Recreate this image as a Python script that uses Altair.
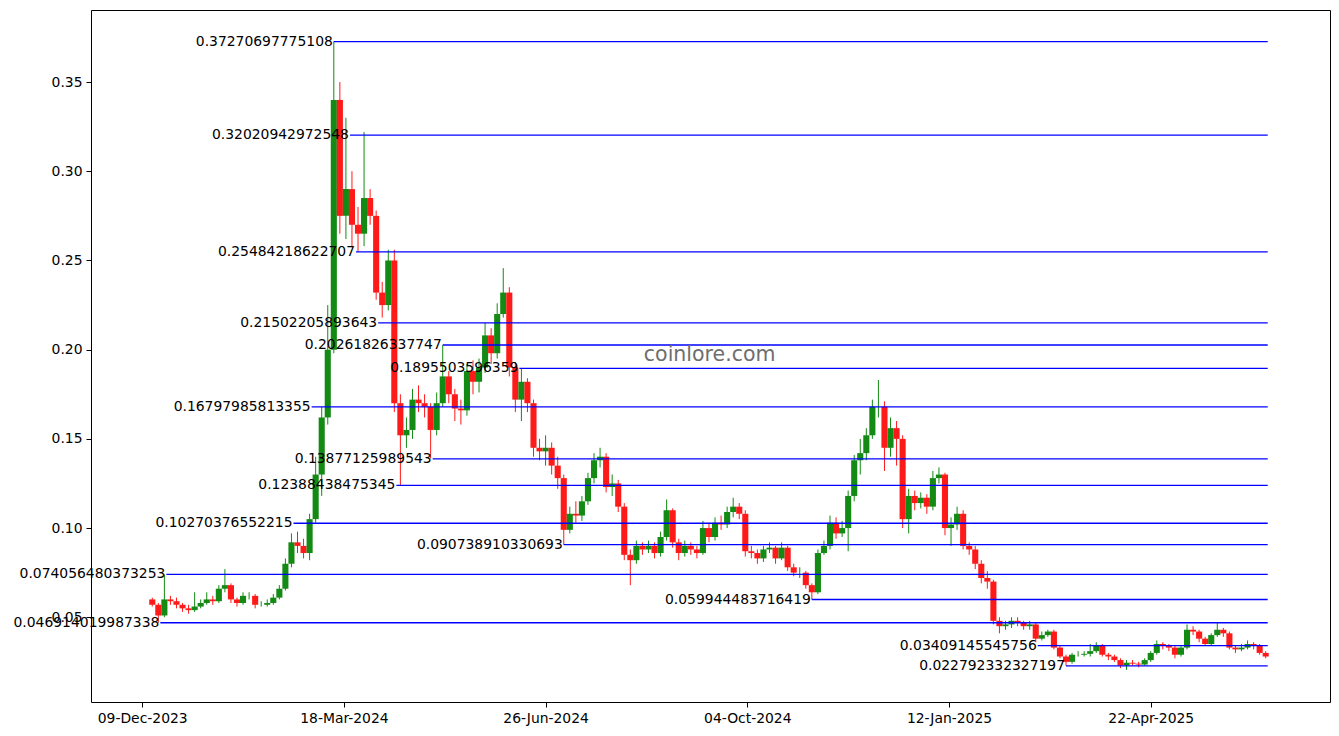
import altair as alt
import pandas as pd

# ---------------- data ----------------
first_open = 0.060
first_date = "2023-12-14"
step_days = 3

closes = [
    0.057, 0.051, 0.060, 0.059, 0.057, 0.055, 0.054, 0.056, 0.058, 0.060,
    0.059, 0.066, 0.068, 0.060, 0.058, 0.062, 0.062, 0.057, 0.057, 0.058,
    0.061, 0.066, 0.080, 0.092, 0.090, 0.086, 0.105, 0.130, 0.162, 0.200,
    0.340, 0.275, 0.290, 0.270, 0.265, 0.285, 0.275, 0.232, 0.225, 0.250,
    0.170, 0.152, 0.155, 0.172, 0.170, 0.168, 0.155, 0.170, 0.185, 0.175,
    0.167, 0.166, 0.188, 0.182, 0.190, 0.208, 0.198, 0.220, 0.232, 0.190,
    0.172, 0.182, 0.170, 0.145, 0.143, 0.145, 0.135, 0.128, 0.099, 0.108,
    0.107, 0.115, 0.128, 0.138, 0.140, 0.123, 0.125, 0.112, 0.085, 0.082,
    0.090, 0.088, 0.090, 0.086, 0.095, 0.110, 0.092, 0.086, 0.090, 0.088,
    0.086, 0.100, 0.095, 0.103, 0.102, 0.109, 0.112, 0.108, 0.087, 0.086,
    0.083, 0.088, 0.089, 0.083, 0.089, 0.078, 0.075, 0.075, 0.068, 0.064,
    0.086, 0.090, 0.103, 0.097, 0.100, 0.118, 0.138, 0.142, 0.152, 0.168,
    0.168, 0.145, 0.156, 0.150, 0.105, 0.118, 0.114, 0.117, 0.112, 0.128,
    0.130, 0.100, 0.102, 0.108, 0.090, 0.088, 0.080, 0.072, 0.070, 0.048,
    0.045, 0.046, 0.048, 0.047, 0.045, 0.046, 0.038, 0.040, 0.042, 0.033,
    0.028, 0.025, 0.029, 0.029, 0.0295, 0.031, 0.034, 0.029, 0.028, 0.026,
    0.023, 0.0245, 0.024, 0.0235, 0.026, 0.030, 0.035, 0.034, 0.033, 0.029,
    0.033, 0.043, 0.042, 0.038, 0.035, 0.040, 0.043, 0.041, 0.033, 0.032,
    0.033, 0.035, 0.034, 0.030, 0.028,
]

highs = [
    0.061, 0.058, 0.074, 0.062, 0.061, 0.058, 0.057, 0.064, 0.060, 0.064,
    0.062, 0.068, 0.077, 0.069, 0.061, 0.064, 0.064, 0.063, 0.059, 0.060,
    0.063, 0.068, 0.083, 0.097, 0.098, 0.094, 0.108, 0.140, 0.168, 0.225,
    0.3727, 0.350, 0.330, 0.300, 0.280, 0.322, 0.290, 0.278, 0.238, 0.256,
    0.256, 0.175, 0.162, 0.178, 0.180, 0.175, 0.170, 0.176, 0.2026, 0.188,
    0.178, 0.172, 0.192, 0.194, 0.195, 0.215, 0.212, 0.226, 0.2457, 0.235,
    0.193, 0.1896, 0.184, 0.172, 0.150, 0.152, 0.148, 0.140, 0.130, 0.112,
    0.115, 0.118, 0.131, 0.142, 0.145, 0.142, 0.130, 0.127, 0.114, 0.088,
    0.093, 0.092, 0.093, 0.092, 0.098, 0.116, 0.111, 0.094, 0.093, 0.092,
    0.090, 0.104, 0.103, 0.106, 0.107, 0.112, 0.117, 0.114, 0.110, 0.090,
    0.088, 0.090, 0.092, 0.090, 0.092, 0.090, 0.080, 0.078, 0.076, 0.069,
    0.088, 0.093, 0.107, 0.106, 0.104, 0.121, 0.141, 0.150, 0.156, 0.172,
    0.183, 0.171, 0.162, 0.160, 0.152, 0.122, 0.121, 0.120, 0.119, 0.132,
    0.134, 0.131, 0.106, 0.112, 0.110, 0.092, 0.090, 0.082, 0.076, 0.071,
    0.050, 0.048, 0.050, 0.050, 0.048, 0.048, 0.047, 0.042, 0.043, 0.043,
    0.034, 0.029, 0.030, 0.031, 0.031, 0.035, 0.036, 0.035, 0.030, 0.029,
    0.027, 0.026, 0.026, 0.025, 0.027, 0.031, 0.037, 0.036, 0.035, 0.034,
    0.034, 0.046, 0.045, 0.043, 0.039, 0.041, 0.047, 0.044, 0.042, 0.034,
    0.035, 0.037, 0.036, 0.035, 0.031,
]

lows = [
    0.056, 0.0469, 0.050, 0.057, 0.055, 0.053, 0.052, 0.053, 0.055, 0.057,
    0.057, 0.058, 0.064, 0.058, 0.056, 0.057, 0.060, 0.055, 0.056, 0.056,
    0.057, 0.060, 0.065, 0.078, 0.086, 0.083, 0.082, 0.103, 0.118, 0.158,
    0.198, 0.265, 0.262, 0.258, 0.255, 0.258, 0.270, 0.228, 0.218, 0.222,
    0.165, 0.124, 0.145, 0.150, 0.165, 0.162, 0.139, 0.152, 0.168, 0.170,
    0.160, 0.158, 0.163, 0.175, 0.176, 0.187, 0.192, 0.195, 0.218, 0.185,
    0.165, 0.160, 0.165, 0.140, 0.138, 0.135, 0.130, 0.122, 0.0907, 0.097,
    0.103, 0.104, 0.113, 0.125, 0.134, 0.120, 0.118, 0.109, 0.082, 0.068,
    0.080, 0.085, 0.086, 0.083, 0.084, 0.093, 0.089, 0.082, 0.084, 0.085,
    0.083, 0.085, 0.092, 0.093, 0.099, 0.100, 0.106, 0.105, 0.084, 0.083,
    0.080, 0.081, 0.086, 0.080, 0.082, 0.076, 0.073, 0.072, 0.066, 0.0599,
    0.063, 0.085, 0.088, 0.094, 0.095, 0.087, 0.115, 0.130, 0.138, 0.150,
    0.162, 0.132, 0.140, 0.135, 0.100, 0.097, 0.110, 0.111, 0.108, 0.110,
    0.125, 0.096, 0.090, 0.099, 0.088, 0.085, 0.077, 0.069, 0.066, 0.046,
    0.041, 0.043, 0.044, 0.045, 0.043, 0.043, 0.036, 0.037, 0.039, 0.032,
    0.027, 0.0228, 0.024, 0.028, 0.028, 0.028, 0.030, 0.028, 0.026, 0.025,
    0.0215, 0.0205, 0.023, 0.022, 0.023, 0.025, 0.029, 0.032, 0.031, 0.027,
    0.028, 0.032, 0.040, 0.036, 0.034, 0.034, 0.039, 0.039, 0.032, 0.030,
    0.031, 0.032, 0.032, 0.029, 0.027,
]

level_values = [
    0.37270697775108, 0.32020942972548, 0.25484218622707, 0.21502205893643,
    0.20261826337747, 0.1895503596359, 0.16797985813355, 0.13877125989543,
    0.12388438475345, 0.10270376552215, 0.090738910330693, 0.074056480373253,
    0.059944483716419, 0.046914019987338, 0.03409145545756, 0.022792332327197,
]
level_labels = [
    "0.37270697775108", "0.32020942972548", "0.25484218622707", "0.21502205893643",
    "0.20261826337747", "0.1895503596359", "0.16797985813355", "0.13877125989543",
    "0.12388438475345", "0.10270376552215", "0.090738910330693", "0.074056480373253",
    "0.059944483716419", "0.046914019987338", "0.03409145545756", "0.022792332327197",
]
level_starts = [
    "2024-03-13", "2024-03-21", "2024-03-24", "2024-04-04",
    "2024-05-06", "2024-06-13", "2024-03-02", "2024-05-01",
    "2024-04-13", "2024-02-22", "2024-07-05", "2023-12-21",
    "2024-11-05", "2023-12-18", "2025-02-25", "2025-03-11",
]
level_end = "2025-06-19"

x_tick_dates = ["2023-12-09", "2024-03-18", "2024-06-26", "2024-10-04", "2025-01-12", "2025-04-22"]
y_tick_values = [0.05, 0.10, 0.15, 0.20, 0.25, 0.30, 0.35]

watermark_text = "coinlore.com"
watermark_date = "2024-09-15T08:00:00"
watermark_value = 0.197

# ---------------- tables ----------------
dates = pd.date_range(first_date, periods=len(closes), freq=f"{step_days}D")
opens = [first_open] + closes[:-1]
candles = pd.DataFrame({
    "date": dates.strftime("%Y-%m-%dT%H:%M:%S"),
    "open": opens,
    "close": closes,
    "high": highs,
    "low": lows,
})
candles["dir"] = ["up" if c >= o else "down" for o, c in zip(opens, closes)]

levels = pd.DataFrame({
    "value": level_values,
    "label": level_labels,
    "start": [d + "T00:00:00" for d in level_starts],
    "end": level_end + "T00:00:00",
})

wm = pd.DataFrame({"date": [watermark_date], "value": [watermark_value], "text": [watermark_text]})


def dt(s, hours=0, minutes=0):
    y, m, d = [int(v) for v in s.split("-")]
    return alt.DateTime(year=y, month=m, date=d, hours=hours, minutes=minutes)


x_scale = alt.Scale(domain=[dt("2023-11-16", 2, 24), dt("2025-07-17", 9, 36)], nice=False)
y_scale = alt.Scale(domain=[0.0025, 0.3904], nice=False, zero=False)

x_axis = alt.Axis(values=[dt(s) for s in x_tick_dates], format="%d-%b-%Y", title=None,
                  labelFlush=False, labelOverlap=False)
y_axis = alt.Axis(values=y_tick_values, format=".2f", title=None, labelOverlap=False)

color = alt.Color("dir:N", scale=alt.Scale(domain=["up", "down"], range=["#138a13", "#ff1a1a"]), legend=None)

base = alt.Chart(candles)

wicks = base.mark_rule(strokeWidth=1).encode(
    x=alt.X("date:T", scale=x_scale, axis=x_axis),
    y=alt.Y("low:Q", scale=y_scale, axis=y_axis),
    y2="high:Q",
    color=color,
)

bodies = base.mark_bar(size=6.1).encode(
    x=alt.X("date:T", scale=x_scale),
    y=alt.Y("open:Q", scale=y_scale),
    y2="close:Q",
    color=color,
)

level_rules = alt.Chart(levels).mark_rule(color="#0000ff", strokeWidth=1.3).encode(
    x=alt.X("start:T", scale=x_scale),
    x2="end:T",
    y=alt.Y("value:Q", scale=y_scale),
)

level_text = alt.Chart(levels).mark_text(
    align="right", baseline="middle", fontSize=13.9, font="DejaVu Sans", color="black", dx=-1
).encode(
    x=alt.X("start:T", scale=x_scale),
    y=alt.Y("value:Q", scale=y_scale),
    text="label:N",
)

watermark = alt.Chart(wm).mark_text(
    align="center", baseline="middle", fontSize=20.5, font="DejaVu Sans", color="#6e6e6e"
).encode(
    x=alt.X("date:T", scale=x_scale),
    y=alt.Y("value:Q", scale=y_scale),
    text="text:N",
)

chart = alt.layer(wicks, bodies, level_rules, level_text, watermark).properties(
    width=1239,
    height=692,
    autosize=alt.AutoSizeParams(type="none"),
    padding={"left": 83, "top": 2, "right": 1, "bottom": 30},
).configure_view(
    stroke="black", strokeWidth=1
).configure_axis(
    domain=False, grid=False, tickColor="black", tickSize=5, tickWidth=1,
    labelColor="black", labelFont="DejaVu Sans", labelFontSize=13.9, labelPadding=4,
)

chart.save("out.html", embed_options={"renderer": "svg", "actions": False})
